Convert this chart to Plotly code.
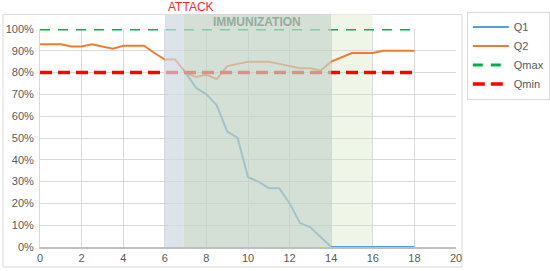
import plotly.graph_objects as go

x_vals = [0, 0.5, 1, 1.5, 2, 2.5, 3, 3.5, 4, 4.5, 5, 5.5, 6, 6.5, 7, 7.5, 8, 8.5, 9, 9.5,
          10, 10.5, 11, 11.5, 12, 12.5, 13, 13.5, 14, 14.5, 15, 15.5, 16, 16.5, 17, 17.5, 18]
q2 = [93, 93, 93, 92, 92, 93, 92, 91, 92.3, 92.3, 92.3, 89, 86, 86, 80, 78, 79, 77, 83, 84,
      85, 85, 85, 84, 83, 82, 82, 81, 85, 87, 89, 89, 89, 90, 90, 90, 90]
q1 = [None] * 14 + [80, 73, 70, 65, 53, 50, 32, 30, 27, 27, 20, 11, 9, 4.5, 0, 0, 0, 0, 0, 0, 0, 0, 0]
qmax_x = [0, 18]
qmax = [100, 100]
qmin_x = [0, 18]
qmin = [80, 80]

attack = (6, 6.9)
immunization = (6.9, 14)
recovery = (14, 16)

pct = lambda v: [None if a is None else a / 100 for a in v]

fig = go.Figure()
fig.add_trace(go.Scatter(x=x_vals, y=pct(q1), name="Q1", mode="lines", cliponaxis=False,
                         line=dict(color="#5B9BD5", width=2)))
fig.add_trace(go.Scatter(x=x_vals, y=pct(q2), name="Q2", mode="lines", cliponaxis=False,
                         line=dict(color="#ED7D31", width=2)))
fig.add_trace(go.Scatter(x=qmax_x, y=pct(qmax), name="Qmax", mode="lines", cliponaxis=False,
                         line=dict(color="#00B050", width=3, dash="10px,8px")))
fig.add_trace(go.Scatter(x=qmin_x, y=pct(qmin), name="Qmin", mode="lines", cliponaxis=False,
                         line=dict(color="#FF0000", width=3.5, dash="12px,6px")))

top = 1.067
# chart border
fig.add_shape(type="rect", xref="paper", yref="paper", x0=-0.089, x1=1.0144, y0=-0.092, y1=top,
              line=dict(color="#d9d9d9", width=1), fillcolor="rgba(0,0,0,0)", layer="below")
fig.add_shape(type="rect", xref="x", yref="paper", x0=recovery[0], x1=recovery[1], y0=0, y1=top,
              line=dict(width=0), fillcolor="#EFF5E7", layer="between")
fig.add_shape(type="rect", xref="x", yref="paper", x0=attack[0], x1=attack[1], y0=0, y1=top,
              line=dict(width=0), fillcolor="rgba(206,215,226,0.7)", layer="above")
fig.add_shape(type="rect", xref="x", yref="paper", x0=immunization[0], x1=immunization[1], y0=0, y1=top,
              line=dict(width=0), fillcolor="rgba(194,211,196,0.7)", layer="above")

fig.add_annotation(text="ATTACK", x=6.05, y=1.103, xref="x", yref="paper", xanchor="left",
                   yanchor="middle", showarrow=False,
                   font=dict(family="Liberation Sans", size=12, color="#FF2A2A"))
fig.add_annotation(text="<b>IMMUNIZATION</b>", x=10.42, y=1.034, xref="x", yref="paper",
                   xanchor="center", yanchor="middle", showarrow=False,
                   font=dict(family="Liberation Sans", size=12, color="#94AC9B"))

fig.update_layout(
    width=550, height=271,
    margin=dict(l=40, r=94, t=29, b=24, autoexpand=False),
    paper_bgcolor="white", plot_bgcolor="white",
    font=dict(family="Liberation Sans", size=11, color="#595959"),
    showlegend=True,
    legend=dict(x=1.026, y=1.08, xanchor="left", yanchor="top",
                bordercolor="#d9d9d9", borderwidth=1, bgcolor="white",
                font=dict(size=11, color="#595959"), tracegroupgap=0, itemwidth=36),
    xaxis=dict(range=[0, 20], dtick=2, tick0=0, showgrid=True, gridcolor="#d9d9d9", gridwidth=1,
               zeroline=False, showline=True, linecolor="#bfbfbf", linewidth=1.5,
               ticks="", automargin=False, layer="below traces",
               tickfont=dict(size=11, color="#595959")),
    yaxis=dict(range=[0, 1.0], dtick=0.1, tick0=0, tickformat=".0%", showgrid=True,
               gridcolor="#d9d9d9", gridwidth=1, zeroline=False, showline=True,
               linecolor="#d9d9d9", linewidth=1, ticks="", automargin=False,
               layer="below traces", ticklabelstandoff=3,
               tickfont=dict(size=11, color="#595959")),
)

fig.write_html("out.html", config={"displayModeBar": False},
               post_script="document.body.style.margin='0';document.body.style.padding='0';")
